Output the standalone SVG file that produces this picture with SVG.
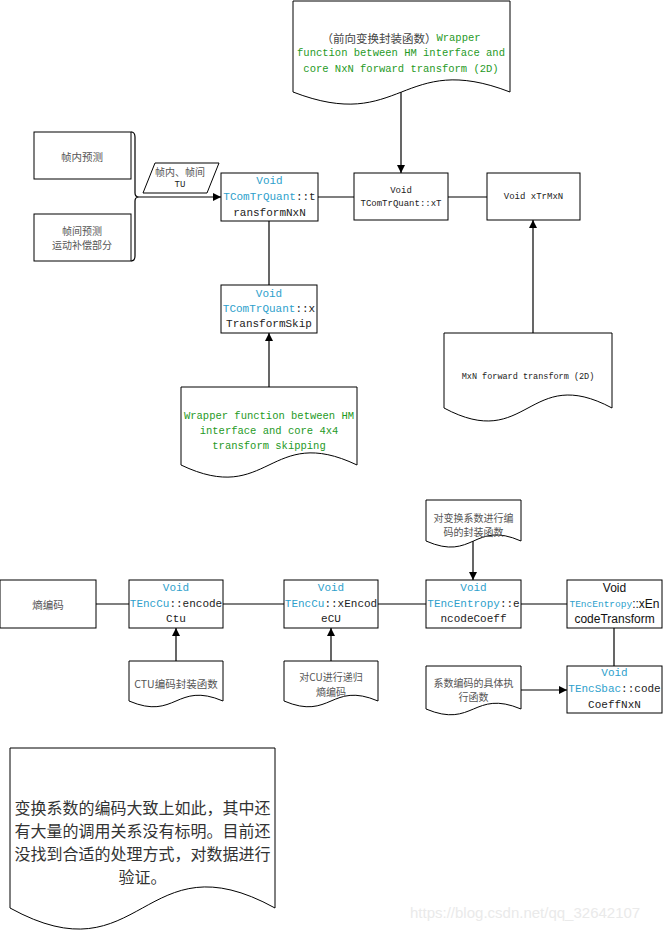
<svg xmlns="http://www.w3.org/2000/svg" width="663" height="931" viewBox="0 0 663 931">
<style>
.box{fill:#fff;stroke:#000;stroke-width:1}
.doc{fill:#fff;stroke:#000;stroke-width:1}
.ln{fill:none;stroke:#000;stroke-width:1.2}
.m{font-family:"Liberation Mono","Noto Sans CJK SC",monospace;fill:#222;text-anchor:middle;dominant-baseline:central}
.cn{font-family:"Noto Sans CJK SC",sans-serif;fill:#555;text-anchor:middle;dominant-baseline:central;font-size:10.5px}
.cs{font-size:10px}
.big{font-size:16px;fill:#333}
.s{font-family:"Liberation Sans",Arial,sans-serif;fill:#111}
.b{fill:#2e9fcc}
.g{fill:#1f9a1f}
.k{fill:#444;font-family:"Noto Sans CJK SC",sans-serif}
</style>
<defs>
<marker id="arr" markerWidth="8" markerHeight="8" refX="8" refY="4" orient="auto" markerUnits="userSpaceOnUse">
<path d="M0,0 L8,4 L0,8 z" fill="#000"/>
</marker>
</defs>
<rect width="663" height="931" fill="#fff"/>

<g id="connectors">
<path class="ln" d="M131,132 Q135,132 135,137 V193 Q135,197 139,197 Q135,197 135,201 V256 Q135,261 131,261"/>
<line class="ln" x1="139" y1="197" x2="221" y2="197" marker-end="url(#arr)"/>
<line class="ln" x1="318" y1="197" x2="354" y2="197"/>
<line class="ln" x1="448" y1="197" x2="487" y2="197"/>
<line class="ln" x1="401" y1="92" x2="401" y2="173" marker-end="url(#arr)"/>
<line class="ln" x1="533" y1="333" x2="533" y2="220" marker-end="url(#arr)"/>
<line class="ln" x1="269" y1="221" x2="269" y2="285"/>
<line class="ln" x1="269" y1="387" x2="269" y2="333" marker-end="url(#arr)"/>
<line class="ln" x1="96" y1="604" x2="129" y2="604"/>
<line class="ln" x1="223" y1="604" x2="284" y2="604"/>
<line class="ln" x1="378" y1="604" x2="426" y2="604"/>
<line class="ln" x1="521" y1="604" x2="567" y2="604"/>
<line class="ln" x1="176" y1="661" x2="176" y2="628" marker-end="url(#arr)"/>
<line class="ln" x1="331" y1="661" x2="331" y2="628" marker-end="url(#arr)"/>
<line class="ln" x1="473" y1="541" x2="473" y2="580" marker-end="url(#arr)"/>
<line class="ln" x1="614" y1="628" x2="614" y2="666"/>
<line class="ln" x1="521" y1="690" x2="567" y2="690" marker-end="url(#arr)"/>
</g>

<g id="doc-forward">
<path class="doc" d="M293,1 H510 V92 C401.5,50 401.5,134 293,92 Z"/>
<text class="m" x="401" y="38" font-size="10.5"><tspan class="k" font-size="11.5">（前向变换封装函数）</tspan><tspan class="g">Wrapper</tspan></text>
<text class="m g" x="401" y="53" font-size="10.5">function between HM interface and</text>
<text class="m g" x="401" y="69" font-size="10.5">core NxN forward transform (2D)</text>
</g>

<g id="intra">
<rect class="box" x="34" y="132" width="97" height="47"/>
<text class="cn" x="82" y="156">帧内预测</text>
</g>
<g id="inter">
<rect class="box" x="34" y="214" width="97" height="47"/>
<text class="cn cs" x="82" y="230">帧间预测</text>
<text class="cn cs" x="82" y="244">运动补偿部分</text>
</g>
<g id="tu">
<path class="box" d="M155,163 H219 L207,193 H143 Z"/>
<text class="cn cs" x="180" y="171">帧内、帧间</text>
<text class="m" x="180" y="185" font-size="9" fill="#444">TU</text>
</g>

<g id="transformNxN">
<rect class="box" x="221" y="173" width="97" height="48"/>
<text class="m b" x="269.5" y="181" font-size="11">Void</text>
<text class="m" x="269.5" y="197" font-size="11"><tspan class="b">TComTrQuant</tspan>::t</text>
<text class="m" x="269.5" y="213" font-size="11">ransformNxN</text>
</g>

<g id="xT">
<rect class="box" x="354" y="173" width="94" height="47"/>
<text class="m" x="401" y="191" font-size="9" fill="#333">Void</text>
<text class="m" x="401" y="204" font-size="9" fill="#333">TComTrQuant::xT</text>
</g>

<g id="xTrMxN">
<rect class="box" x="487" y="173" width="93" height="47"/>
<text class="m" x="533.5" y="197" font-size="9" fill="#333">Void xTrMxN</text>
</g>

<g id="doc-mxn">
<path class="doc" d="M444,333 H612 V408 C528,363 528,453 444,408 Z"/>
<text class="m" x="528" y="377" font-size="8.5" fill="#333">MxN forward transform (2D)</text>
</g>

<g id="xTransformSkip">
<rect class="box" x="221" y="285" width="96" height="48"/>
<text class="m b" x="269" y="294" font-size="11">Void</text>
<text class="m" x="269" y="309" font-size="11"><tspan class="b">TComTrQuant</tspan>::x</text>
<text class="m" x="269" y="324" font-size="11">TransformSkip</text>
</g>

<g id="doc-skip">
<path class="doc" d="M181,387 H357 V465 C269,423 269,507 181,465 Z"/>
<text class="m g" x="269" y="416" font-size="10.5">Wrapper function between HM</text>
<text class="m g" x="269" y="431" font-size="10.5">interface and core 4x4</text>
<text class="m g" x="269" y="446" font-size="10.5">transform skipping</text>
</g>

<g id="entropy">
<rect class="box" x="0" y="580" width="96" height="48"/>
<text class="cn" x="48" y="604">熵编码</text>
</g>

<g id="encodeCtu">
<rect class="box" x="129" y="580" width="94" height="48"/>
<text class="m b" x="176" y="588" font-size="11">Void</text>
<text class="m" x="176" y="604" font-size="11"><tspan class="b">TEncCu</tspan>::encode</text>
<text class="m" x="176" y="619" font-size="11">Ctu</text>
</g>

<g id="doc-ctu">
<path class="doc" d="M129,661 H223 V701 C176,681 176,721 129,701 Z"/>
<text class="cn" x="176" y="683">CTU编码封装函数</text>
</g>

<g id="xEncodeCU">
<rect class="box" x="284" y="580" width="94" height="48"/>
<text class="m b" x="331" y="588" font-size="11">Void</text>
<text class="m" x="331" y="604" font-size="11"><tspan class="b">TEncCu</tspan>::xEncod</text>
<text class="m" x="331" y="619" font-size="11">eCU</text>
</g>

<g id="doc-cu">
<path class="doc" d="M284,661 H378 V701 C331,681 331,721 284,701 Z"/>
<text class="cn cs" x="331" y="676">对CU进行递归</text>
<text class="cn cs" x="331" y="691">熵编码</text>
</g>

<g id="doc-coeff">
<path class="doc" d="M426,500 H521 V541 C473.5,520 473.5,562 426,541 Z"/>
<text class="cn cs" x="473.5" y="517">对变换系数进行编</text>
<text class="cn cs" x="473.5" y="531">码的封装函数</text>
</g>

<g id="encodeCoeff">
<rect class="box" x="426" y="580" width="95" height="48"/>
<text class="m b" x="473.5" y="588" font-size="11">Void</text>
<text class="m" x="473.5" y="604" font-size="11"><tspan class="b">TEncEntropy</tspan>::e</text>
<text class="m" x="473.5" y="619" font-size="11">ncodeCoeff</text>
</g>

<g id="xEncodeTransform">
<rect class="box" x="567" y="580" width="95" height="48"/>
<text class="s" x="614.5" y="588" font-size="12" text-anchor="middle" dominant-baseline="central">Void</text>
<text x="614.5" y="604" text-anchor="middle" dominant-baseline="central"><tspan class="b" font-family="Liberation Mono, monospace" font-size="9.5">TEncEntropy</tspan><tspan class="s" font-size="12">::xEn</tspan></text>
<text class="s" x="614.5" y="619" font-size="12" text-anchor="middle" dominant-baseline="central">codeTransform</text>
</g>

<g id="doc-exec">
<path class="doc" d="M426,666 H521 V709 C473.5,689 473.5,729 426,709 Z"/>
<text class="cn cs" x="473.5" y="682">系数编码的具体执</text>
<text class="cn cs" x="473.5" y="696">行函数</text>
</g>

<g id="codeCoeffNxN">
<rect class="box" x="567" y="666" width="95" height="47"/>
<text class="m b" x="614.5" y="673" font-size="11">Void</text>
<text class="m" x="614.5" y="689" font-size="11"><tspan class="b">TEncSbac</tspan>::code</text>
<text class="m" x="614.5" y="705" font-size="11">CoeffNxN</text>
</g>

<g id="doc-note">
<path class="doc" d="M10,748 H275 V908 C142.5,835 142.5,981 10,908 Z"/>
<text class="cn big" x="142.5" y="807">变换系数的编码大致上如此，其中还</text>
<text class="cn big" x="142.5" y="830">有大量的调用关系没有标明。目前还</text>
<text class="cn big" x="142.5" y="853">没找到合适的处理方式，对数据进行</text>
<text class="cn big" x="142.5" y="876">验证。</text>
</g>

<text x="410" y="918" font-family="Liberation Sans, Arial, sans-serif" font-size="15" fill="#eaeaea">https://blog.csdn.net/qq_32642107</text>
</svg>
